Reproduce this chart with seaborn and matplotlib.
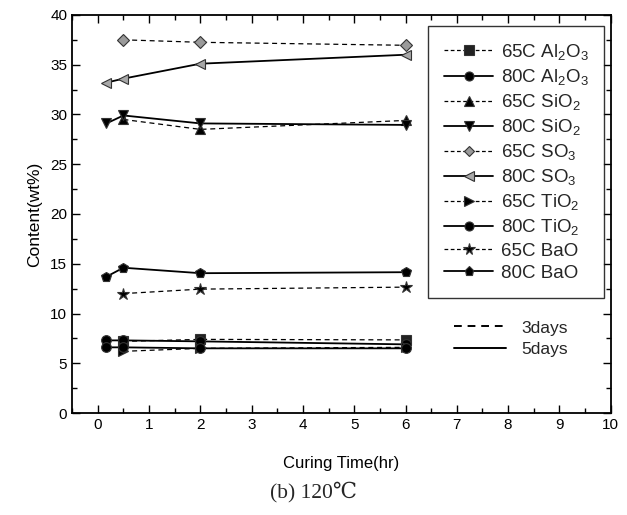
import matplotlib
matplotlib.use("Agg")
import matplotlib.pyplot as plt
from matplotlib.lines import Line2D
from matplotlib.ticker import MultipleLocator
import seaborn as sns
import pandas as pd

sns.set_theme(style="ticks")
plt.rcParams['font.family'] = ['Liberation Sans', 'DejaVu Sans']
plt.rcParams['mathtext.default'] = 'regular'

# curing times (hr)
t80 = [0.17, 0.5, 2, 6]
t65 = [0.5, 2, 6]

# 65C / 80C content (wt%) per oxide
al2o3_65 = [7.2, 7.4, 7.35]
al2o3_80 = [7.3, 7.3, 7.2, 6.9]
sio2_65 = [29.5, 28.5, 29.4]
sio2_80 = [29.1, 29.9, 29.1, 28.95]
so3_65 = [37.5, 37.25, 36.95]
so3_80 = [33.2, 33.6, 35.1, 36.0]
tio2_65 = [6.2, 6.5, 6.6]
tio2_80 = [6.6, 6.6, 6.5, 6.5]
bao_65 = [12.0, 12.45, 12.65]
bao_80 = [13.7, 14.6, 14.05, 14.15]

labels = ["65C Al$_2$O$_3$", "80C Al$_2$O$_3$", "65C SiO$_2$", "80C SiO$_2$",
          "65C SO$_3$", "80C SO$_3$", "65C TiO$_2$", "80C TiO$_2$",
          "65C BaO", "80C BaO"]
values = [al2o3_65, al2o3_80, sio2_65, sio2_80, so3_65, so3_80,
          tio2_65, tio2_80, bao_65, bao_80]
markers = ["s", "o", "^", "v", "D", "<", ">", "o", "*", "p"]
fills = ["#222222", "black", "black", "black", "#9a9a9a", "#a8a8a8",
         "black", "black", "black", "black"]

rows = []
for lab, vals in zip(labels, values):
    times = t65 if lab.startswith("65C") else t80
    for t, v in zip(times, vals):
        rows.append({"series": lab, "time": t, "content": v})
df = pd.DataFrame(rows)

fig = plt.figure(figsize=(6.27, 5.15), dpi=100)
ax = fig.add_axes([0.115, 0.198, 0.859, 0.773])


def marker_size(mk):
    if mk == "*":
        return 9
    if mk == "D":
        return 6
    return 7


for lab, mk, fc in zip(labels, markers, fills):
    sub = df[df["series"] == lab]
    is65 = lab.startswith("65C")
    sns.lineplot(data=sub, x="time", y="content", ax=ax, color="black",
                 linestyle=(0, (4, 3)) if is65 else "-",
                 linewidth=0.9 if is65 else 1.3,
                 marker=mk, markersize=marker_size(mk), markerfacecolor=fc,
                 markeredgecolor="#333333", markeredgewidth=0.8,
                 label=lab, legend=False, estimator=None, sort=True)

ax.set_xlim(-0.5, 10)
ax.set_ylim(0, 40)
ax.xaxis.set_major_locator(MultipleLocator(1))
ax.xaxis.set_minor_locator(MultipleLocator(0.5))
ax.yaxis.set_major_locator(MultipleLocator(5))
ax.yaxis.set_minor_locator(MultipleLocator(2.5))
ax.tick_params(which="both", direction="in", top=True, right=True,
               labeltop=False, labelright=False, colors="black", labelsize=11)
ax.tick_params(which="major", length=6, width=1)
ax.tick_params(which="minor", length=3.5, width=1)
for s in ax.spines.values():
    s.set_color("black")
    s.set_linewidth(1.3)

ax.set_xlabel("Curing Time(hr)", fontsize=12, color="black", labelpad=17)
ax.set_ylabel("Content(wt%)", fontsize=12.5, color="black", labelpad=6)

handles = []
for lab, mk, fc in zip(labels, markers, fills):
    is65 = lab.startswith("65C")
    handles.append(Line2D([], [], color="black",
                          linestyle=(0, (3, 2)) if is65 else "-",
                          linewidth=0.9 if is65 else 1.3,
                          marker=mk, markersize=marker_size(mk) - 0.5,
                          markerfacecolor=fc,
                          markeredgecolor="#333333", markeredgewidth=0.8))
leg1 = ax.legend(handles, labels, loc="upper right",
                 bbox_to_anchor=(0.988, 0.972), fontsize=13.5, frameon=True,
                 fancybox=False, edgecolor="black", handlelength=2.6,
                 labelspacing=0.27, handletextpad=0.4, borderpad=0.85,
                 borderaxespad=0)
leg1.get_frame().set_linewidth(1.0)
ax.add_artist(leg1)

day_handles = [Line2D([], [], color="black", linestyle=(0, (4, 3)), linewidth=1.4),
               Line2D([], [], color="black", linestyle="-", linewidth=1.4)]
ax.legend(day_handles, ["3days", "5days"], loc="upper left",
          bbox_to_anchor=(0.68, 0.272), fontsize=12.5, frameon=False,
          handlelength=3.0, labelspacing=0.35, handletextpad=0.9)

fig.text(0.5, 0.045, "(b) 120\u2103", ha="center", va="center", fontsize=15.5,
         family=["Liberation Serif", "DejaVu Serif"])

fig.savefig("out.png", dpi=100)
plt.close()
